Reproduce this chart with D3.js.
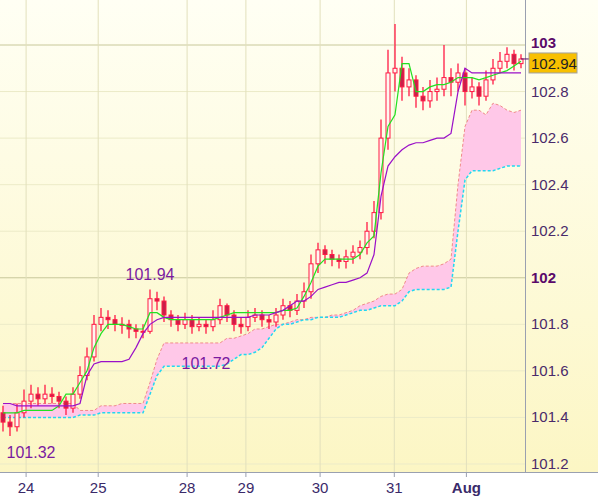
<!DOCTYPE html>
<html><head><meta charset="utf-8">
<script src="https://cdn.jsdelivr.net/npm/d3@7"></script>
<style>body{margin:0;background:#fff}text{font-family:Arial,"Liberation Sans",sans-serif}</style>
</head><body><div id="chart"></div>
<script>
// candle closes (one bar per slot)
var closes = [101.38,101.36,101.42,101.47,101.50,101.48,101.50,101.49,101.47,101.44,
  101.50,101.58,101.66,101.80,101.83,101.82,101.80,101.80,101.78,101.77,
  101.77,101.91,101.90,101.84,101.82,101.80,101.82,101.79,101.80,101.79,
  101.82,101.88,101.84,101.80,101.79,101.83,101.84,101.82,101.81,101.84,
  101.88,101.86,101.90,101.94,102.06,102.12,102.10,102.08,102.07,102.09,
  102.11,102.13,102.20,102.28,102.60,102.88,102.90,102.82,102.85,102.78,
  102.76,102.80,102.81,102.86,102.84,102.88,102.80,102.82,102.78,102.85,
  102.90,102.93,102.96,102.92,102.94];
var opens = [101.42,101.38,101.36,101.42,101.47,101.50,101.48,101.50,101.49,101.47,
  101.44,101.50,101.58,101.66,101.80,101.83,101.82,101.80,101.80,101.78,
  101.77,101.77,101.91,101.90,101.84,101.82,101.80,101.82,101.79,101.80,
  101.79,101.82,101.88,101.84,101.80,101.79,101.83,101.84,101.82,101.81,
  101.84,101.88,101.86,101.90,101.94,102.06,102.12,102.10,102.08,102.07,
  102.09,102.11,102.13,102.20,102.28,102.60,102.88,102.90,102.82,102.85,
  102.78,102.76,102.80,102.81,102.86,102.84,102.88,102.80,102.82,102.78,
  102.85,102.90,102.93,102.96,102.92];
var highs = [101.45,101.41,101.46,101.52,101.54,101.53,101.54,101.53,101.51,101.49,
  101.53,101.62,101.70,101.84,101.87,101.86,101.84,101.83,101.82,101.80,
  101.80,101.95,101.94,101.92,101.86,101.84,101.85,101.84,101.83,101.82,
  101.86,101.91,101.89,101.86,101.83,101.86,101.87,101.86,101.84,101.87,
  101.91,101.90,101.93,101.98,102.10,102.15,102.14,102.12,102.10,102.12,
  102.14,102.16,102.24,102.33,102.68,102.98,103.09,102.95,102.90,102.87,
  102.82,102.85,102.86,103.00,102.90,102.92,102.90,102.86,102.84,102.89,
  102.94,102.97,102.99,102.98,102.96];
var lows = [101.34,101.32,101.34,101.40,101.44,101.45,101.46,101.46,101.44,101.41,
  101.42,101.48,101.56,101.64,101.77,101.78,101.77,101.76,101.74,101.74,
  101.74,101.76,101.86,101.81,101.79,101.77,101.78,101.76,101.77,101.76,
  101.77,101.80,101.81,101.77,101.76,101.77,101.81,101.79,101.78,101.79,
  101.82,101.83,101.84,101.87,101.91,102.02,102.06,102.05,102.04,102.04,
  102.06,102.08,102.10,102.17,102.25,102.55,102.80,102.76,102.78,102.73,
  102.72,102.73,102.76,102.78,102.78,102.80,102.74,102.77,102.74,102.76,
  102.83,102.88,102.90,102.89,102.90];
var tenkan = [101.42,101.42,101.42,101.43,101.43,101.43,101.43,101.43,101.45,101.50,
  101.50,101.55,101.60,101.70,101.76,101.80,101.80,101.80,101.79,101.78,
  101.78,101.85,101.85,101.83,101.82,101.82,101.82,101.82,101.82,101.82,
  101.82,101.83,101.84,101.85,101.85,101.85,101.85,101.85,101.85,101.85,
  101.86,101.86,101.87,101.92,101.98,102.05,102.08,102.08,102.08,102.08,
  102.08,102.10,102.15,102.18,102.45,102.65,102.70,102.92,102.92,102.80,
  102.80,102.82,102.83,102.83,102.84,102.86,102.86,102.86,102.85,102.86,
  102.87,102.88,102.89,102.91,102.93];
var kijun = [101.46,101.46,101.45,101.45,101.45,101.45,101.45,101.45,101.45,101.45,
  101.45,101.46,101.58,101.63,101.64,101.64,101.64,101.64,101.65,101.70,
  101.76,101.80,101.82,101.83,101.83,101.83,101.83,101.83,101.83,101.83,
  101.83,101.83,101.83,101.83,101.83,101.83,101.84,101.84,101.84,101.85,
  101.86,101.88,101.90,101.90,101.92,101.95,101.96,101.97,101.98,101.98,
  101.99,102.00,102.02,102.10,102.35,102.48,102.52,102.55,102.57,102.58,
  102.58,102.59,102.60,102.60,102.62,102.80,102.90,102.88,102.88,102.88,
  102.88,102.88,102.88,102.88,102.88];
var spanA = [101.46,101.46,101.46,101.46,101.46,101.46,101.46,101.46,101.46,101.46,
  101.46,101.43,101.43,101.43,101.45,101.45,101.45,101.46,101.46,101.46,
  101.46,101.55,101.65,101.72,101.72,101.72,101.72,101.72,101.72,101.72,
  101.72,101.72,101.74,101.74,101.75,101.76,101.78,101.78,101.79,101.80,
  101.80,101.81,101.82,101.82,101.83,101.83,101.83,101.84,101.84,101.85,
  101.86,101.88,101.89,101.90,101.92,101.93,101.93,101.95,102.02,102.04,
  102.05,102.05,102.05,102.06,102.08,102.40,102.65,102.72,102.72,102.70,
  102.75,102.74,102.72,102.71,102.72];
var spanB = [101.40,101.40,101.40,101.40,101.40,101.40,101.40,101.40,101.40,101.40,
  101.40,101.41,101.41,101.41,101.42,101.42,101.42,101.42,101.42,101.42,
  101.42,101.50,101.58,101.62,101.62,101.62,101.62,101.62,101.62,101.62,
  101.62,101.62,101.63,101.65,101.67,101.67,101.68,101.70,101.74,101.78,
  101.80,101.80,101.81,101.82,101.82,101.83,101.83,101.83,101.83,101.84,
  101.85,101.86,101.86,101.87,101.88,101.88,101.88,101.90,101.94,101.95,
  101.95,101.95,101.95,101.95,101.96,102.20,102.42,102.46,102.46,102.46,
  102.46,102.47,102.48,102.48,102.48];
var dayLabels = ["24","25","28","29","30","31","Aug"];
var daySlots = [3.3,13.6,26.3,34.7,45.3,55.9,66.2];
var yTicks = [101.2,101.4,101.6,101.8,102,102.2,102.4,102.6,102.8,103];
var notes = [{t:"101.94",i:21,v:101.94,dy:-12},{t:"101.72",i:29,v:101.72,dy:26},{t:"101.32",i:4,v:101.32,dy:22}];
var last = 102.94;

var W = 598, H = 496, pw = 525, ph = 472;
var svg = d3.select("#chart").append("svg").attr("width", W).attr("height", H);
var defs = svg.append("defs");
var grad = defs.append("linearGradient").attr("id","bg").attr("x1",0).attr("y1",0).attr("x2",0).attr("y2",1);
grad.append("stop").attr("offset","0%").attr("stop-color","#fffff4");
grad.append("stop").attr("offset","100%").attr("stop-color","#fcf6c4");
svg.append("rect").attr("width",W).attr("height",ph).attr("fill","url(#bg)");

var x = d3.scaleLinear().domain([0,74]).range([3,521]);
var y = d3.scaleLinear().domain([101.2,103]).range([464,45]);

// grid
svg.selectAll(".hg").data(yTicks).enter().append("line")
  .attr("x1",0).attr("x2",pw).attr("y1",d=>y(d)).attr("y2",d=>y(d))
  .attr("stroke",d=>(d%1===0)?"#c8c89a":"#ecebc8").attr("stroke-width",1);
svg.selectAll(".vg").data(daySlots).enter().append("line")
  .attr("x1",d=>x(d)).attr("x2",d=>x(d)).attr("y1",0).attr("y2",ph)
  .attr("stroke","#e2e0bc");

// cloud
var idx = d3.range(closes.length);
svg.append("path").datum(idx)
  .attr("d", d3.area().x(i=>x(i)).y0(i=>y(spanB[i])).y1(i=>y(spanA[i])))
  .attr("fill","#ffc8e8");
svg.append("path").datum(idx).attr("fill","none").attr("stroke","#f08a8a").attr("stroke-dasharray","3,2")
  .attr("d", d3.line().x(i=>x(i)).y(i=>y(spanA[i])));
svg.append("path").datum(idx).attr("fill","none").attr("stroke","#22d8f0").attr("stroke-width",1.5).attr("stroke-dasharray","3,2")
  .attr("d", d3.line().x(i=>x(i)).y(i=>y(spanB[i])));

// candles
var c = svg.append("g");
idx.forEach(function(i){
  c.append("line").attr("x1",x(i)).attr("x2",x(i)).attr("y1",y(highs[i])).attr("y2",y(lows[i]))
    .attr("stroke","#ff1a44").attr("stroke-width",1.3);
  var up = closes[i] >= opens[i];
  var top = y(Math.max(opens[i],closes[i])), bot = y(Math.min(opens[i],closes[i]));
  c.append("rect").attr("x",x(i)-2).attr("width",4).attr("y",top).attr("height",Math.max(1,bot-top))
    .attr("fill", up ? "#fff6f0" : "#c8204a").attr("stroke","#ff1a44");
});

svg.append("path").datum(idx).attr("fill","none").attr("stroke","#22e022").attr("stroke-width",1.2)
  .attr("d", d3.line().x(i=>x(i)).y(i=>y(tenkan[i])));
svg.append("path").datum(idx).attr("fill","none").attr("stroke","#9a10c8").attr("stroke-width",1.2)
  .attr("d", d3.line().x(i=>x(i)).y(i=>y(kijun[i])));

svg.selectAll(".note").data(notes).enter().append("text")
  .attr("x",d=>x(d.i)).attr("y",d=>y(d.v)+d.dy).attr("text-anchor","middle")
  .attr("font-size",16).attr("fill","#7a1aa0").text(d=>d.t);

// right axis
svg.append("line").attr("x1",pw+0.5).attr("x2",pw+0.5).attr("y1",0).attr("y2",ph).attr("stroke","#9aa0b0");
svg.selectAll(".yt").data(yTicks).enter().append("text")
  .attr("x",531).attr("y",d=>y(d)+(d===103?3:5)).attr("font-size",15)
  .attr("font-weight",d=>(d%1===0)?"bold":"normal")
  .attr("fill",d=>(d%1===0)?"#5a0a6a":"#4a2a6a")
  .text(d=>(d%1===0)?d3.format("d")(d):d3.format(".1f")(d));
svg.append("line").attr("x1",521).attr("x2",pw+4).attr("y1",y(last)).attr("y2",y(last)).attr("stroke","#5a0a6a");
svg.append("rect").attr("x",529).attr("y",y(last)-6).attr("width",48).attr("height",20)
  .attr("fill","#f8c000").attr("stroke","#a0a0a0");
svg.append("text").attr("x",531).attr("y",y(last)+10).attr("font-size",15).attr("fill","#222").text(last.toFixed(2));

// bottom axis
svg.append("rect").attr("y",ph).attr("width",W).attr("height",H-ph).attr("fill","#fff");
svg.append("line").attr("x1",0).attr("x2",W).attr("y1",ph+0.5).attr("y2",ph+0.5).attr("stroke","#9aa0b0");
daySlots.forEach(function(s,k){
  svg.append("line").attr("x1",x(s)).attr("x2",x(s)).attr("y1",ph).attr("y2",ph+5).attr("stroke","#9aa0b0");
  svg.append("text").attr("x",x(s)).attr("y",493).attr("text-anchor","middle").attr("font-size",15)
    .attr("font-weight",dayLabels[k]==="Aug"?"bold":"normal").attr("fill","#3a2a6a").text(dayLabels[k]);
});
</script></body></html>
